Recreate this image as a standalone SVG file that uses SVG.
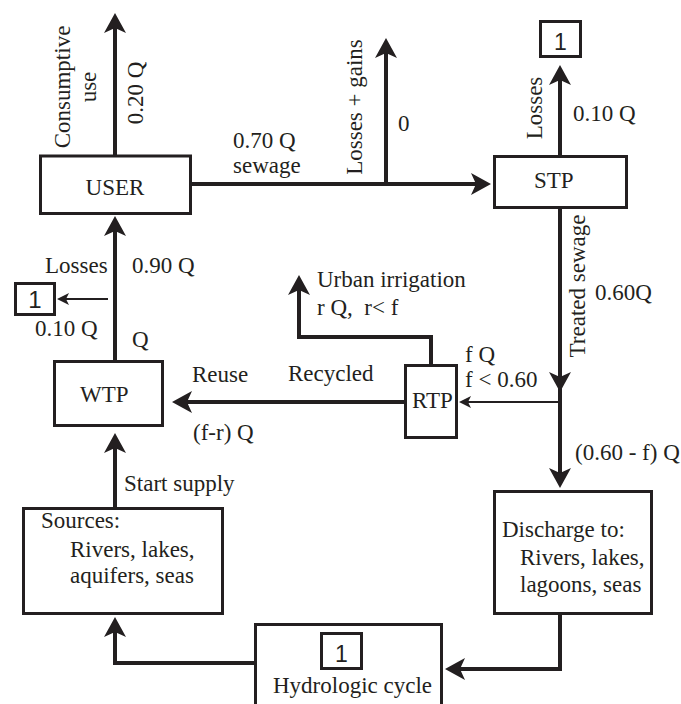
<svg xmlns="http://www.w3.org/2000/svg" width="681" height="704" viewBox="0 0 681 704" font-family="Liberation Serif, Times New Roman, DejaVu Serif, serif">
<defs>
<style>
.bx{fill:#fff;stroke:#231f20;stroke-width:3}
.ln{fill:none;stroke:#231f20;stroke-width:4}
.th{fill:none;stroke:#231f20;stroke-width:2.2}
text{font-size:23px;fill:#231f20}
.mid{text-anchor:middle}
</style>
<marker id="ah" markerUnits="userSpaceOnUse" markerWidth="20" markerHeight="22" viewBox="0 0 20 22" refX="5" refY="11" orient="auto">
<path d="M0,0 L20,11 L0,22 L5,11 Z" fill="#231f20"/>
</marker>
<marker id="as" markerUnits="userSpaceOnUse" markerWidth="12" markerHeight="12" viewBox="0 0 12 12" refX="3" refY="6" orient="auto">
<path d="M0,0 L12,6 L0,12 L3,6 Z" fill="#231f20"/>
</marker>
</defs>
<rect width="681" height="704" fill="#fff"/>

<g id="connectors">
<path class="ln" d="M115,156 V28" marker-end="url(#ah)"/>
<path class="ln" d="M192,184 H476" marker-end="url(#ah)"/>
<path class="ln" d="M386,184 V53" marker-end="url(#ah)"/>
<path class="ln" d="M560,156 V80" marker-end="url(#ah)"/>
<path class="ln" d="M560,208 V377" marker-end="url(#ah)"/>
<path class="ln" d="M560,388 V473" marker-end="url(#ah)"/>
<path class="th" d="M560,402 H468" marker-end="url(#as)"/>
<path class="ln" d="M405,402 H187" marker-end="url(#ah)"/>
<path class="ln" d="M431,365 V337 H299 V290" marker-end="url(#ah)"/>
<path class="ln" d="M115,361 V231" marker-end="url(#ah)"/>
<path class="th" d="M108,299 H66" marker-end="url(#as)"/>
<path class="ln" d="M115,508 V448" marker-end="url(#ah)"/>
<path class="ln" d="M256,663 H115 V632" marker-end="url(#ah)"/>
<path class="ln" d="M560,614 V669 H460" marker-end="url(#ah)"/>
</g>

<g id="user">
<rect class="bx" x="40.5" y="156" width="150" height="57.5"/>
<text x="115" y="195" class="mid">USER</text>
</g>
<g id="stp">
<rect class="bx" x="494.5" y="156.5" width="132" height="51"/>
<text x="534" y="188">STP</text>
</g>
<g id="rtp">
<rect class="bx" x="405.5" y="365.5" width="51" height="72"/>
<text x="412" y="408">RTP</text>
</g>
<g id="wtp">
<rect class="bx" x="54.5" y="361.5" width="108" height="64"/>
<text x="80" y="402">WTP</text>
</g>
<g id="sources">
<rect class="bx" x="23.5" y="508.5" width="199" height="105"/>
<text x="41" y="528">Sources:</text>
<text x="70" y="557">Rivers, lakes,</text>
<text x="70" y="583">aquifers, seas</text>
</g>
<g id="discharge">
<rect class="bx" x="494.5" y="491.5" width="157" height="122"/>
<text x="502" y="537">Discharge to:</text>
<text x="520" y="565">Rivers, lakes,</text>
<text x="520" y="592">lagoons, seas</text>
</g>
<g id="hydrologic">
<rect class="bx" x="255.5" y="624.5" width="186" height="90"/>
<rect class="bx" x="321.5" y="633.5" width="40" height="35"/>
<text x="341.5" y="662" class="mid" font-family="Liberation Sans, Arial, sans-serif" font-size="26">1</text>
<text x="273" y="693">Hydrologic cycle</text>
</g>
<g id="loss-stp">
<rect class="bx" x="540.5" y="21.5" width="40" height="35"/>
<text x="560.5" y="50" class="mid" font-family="Liberation Sans, Arial, sans-serif" font-size="26">1</text>
</g>
<g id="loss-wtp">
<rect class="bx" x="15.5" y="283.5" width="39" height="31"/>
<text x="35" y="308" class="mid" font-family="Liberation Sans, Arial, sans-serif" style="font-size:24px">1</text>
</g>

<g id="labels">
<text transform="translate(70,87) rotate(-90)" class="mid">Consumptive</text>
<text transform="translate(96,87) rotate(-90)" class="mid">use</text>
<text transform="translate(143,93) rotate(-90)" class="mid">0.20 Q</text>
<text x="233" y="148">0.70 Q</text>
<text x="233" y="173">sewage</text>
<text transform="translate(362,107) rotate(-90)" class="mid">Losses + gains</text>
<text x="398" y="131">0</text>
<text transform="translate(542,108) rotate(-90)" class="mid">Losses</text>
<text x="573" y="121">0.10 Q</text>
<text transform="translate(585,286) rotate(-90)" class="mid">Treated sewage</text>
<text x="595" y="300">0.60Q</text>
<text x="317" y="287">Urban irrigation</text>
<text x="317" y="315" xml:space="preserve">r Q,  r&lt; f</text>
<text x="288" y="381">Recycled</text>
<text x="465" y="362">f Q</text>
<text x="465" y="387">f &lt; 0.60</text>
<text x="575" y="460">(0.60 - f) Q</text>
<text x="192" y="382">Reuse</text>
<text x="193" y="440">(f-r) Q</text>
<text x="45" y="273">Losses</text>
<text x="132" y="273">0.90 Q</text>
<text x="35" y="336">0.10 Q</text>
<text x="132" y="347">Q</text>
<text x="124" y="491">Start supply</text>
</g>
</svg>
